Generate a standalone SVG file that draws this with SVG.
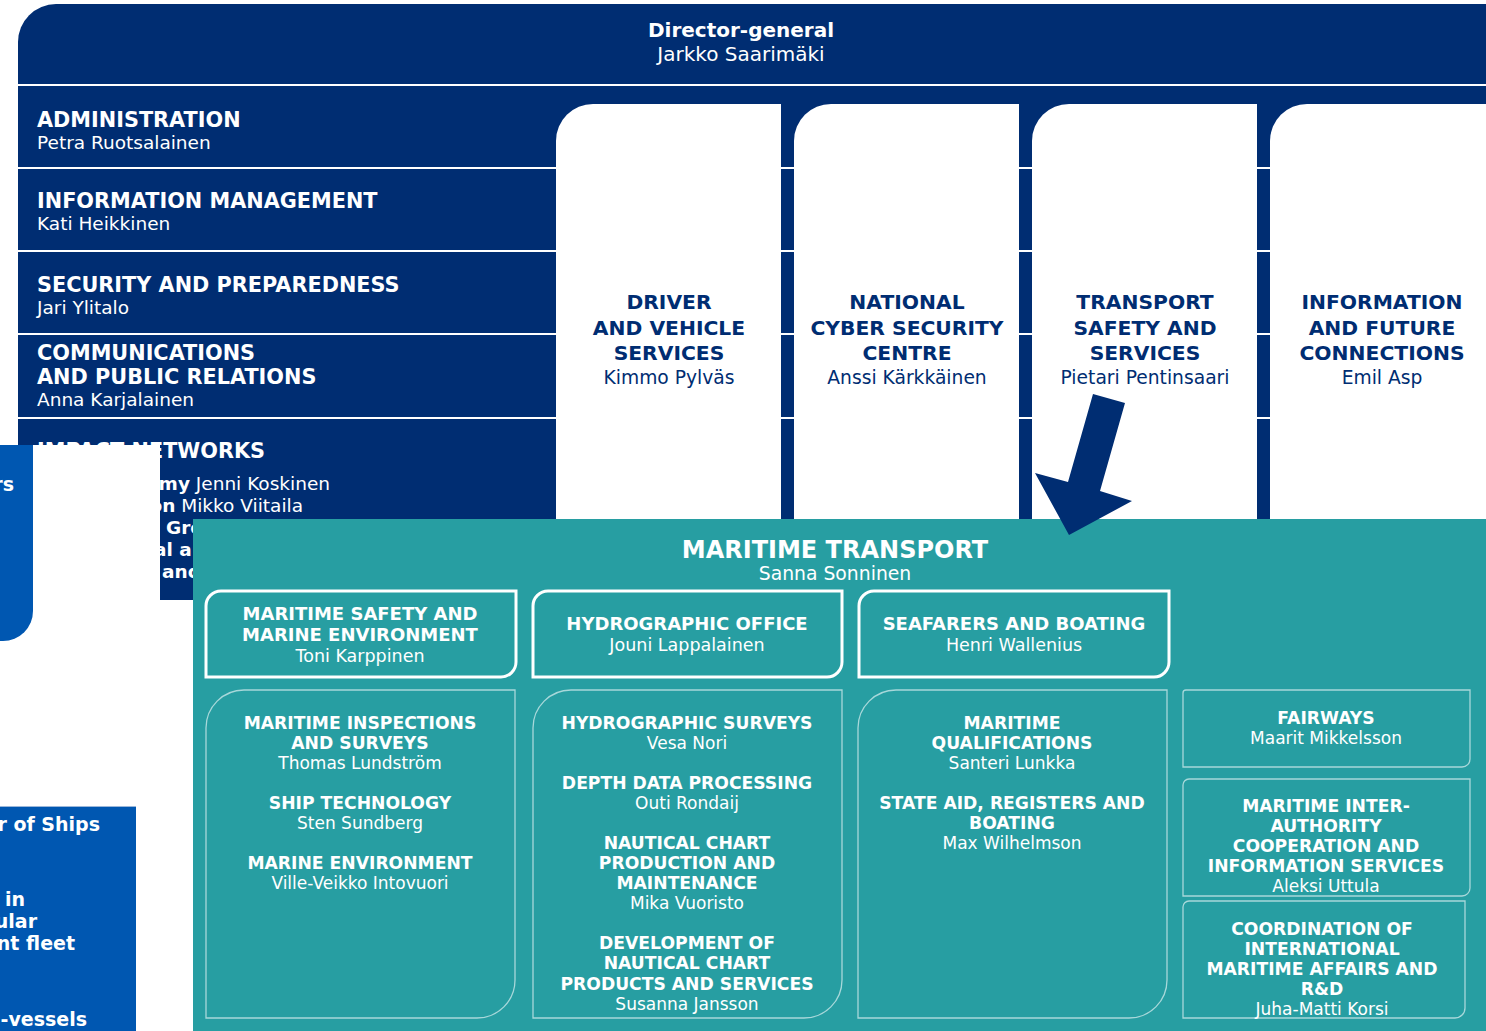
<svg xmlns="http://www.w3.org/2000/svg" width="1486" height="1031" viewBox="0 0 1486 1031">
<style>
text{font-family:"DejaVu Sans","Liberation Sans",sans-serif}
.navy{fill:#002D72}
.wt{fill:#ffffff}
.hb{font-weight:bold;font-size:20.8px;fill:#ffffff}
.hn{font-size:18.5px;fill:#ffffff}
.cb{font-weight:bold;font-size:20.3px;fill:#002D72;text-anchor:middle}
.cn{font-size:18.7px;fill:#002D72;text-anchor:middle}
.tb{font-weight:bold;font-size:18px;fill:#ffffff;text-anchor:middle}
.tn{font-size:17.5px;fill:#ffffff;text-anchor:middle}
.lb{font-weight:bold;font-size:17.2px;fill:#ffffff;text-anchor:middle}
.ln{font-size:17px;fill:#ffffff;text-anchor:middle}
.thick{fill:none;stroke:#ffffff;stroke-width:3}
.thin{fill:none;stroke:#A8D8DA;stroke-width:1.3}
.bb{font-weight:bold;font-size:19px;fill:#ffffff;text-anchor:end}
</style>
<rect width="1486" height="1031" fill="#ffffff"/>

<g id="director">
<path class="navy" d="M18,42 A38,38 0 0 1 56,4 L1486,4 L1486,84 L18,84 Z"/>
<text x="741" y="37" text-anchor="middle" style="font-weight:bold;font-size:20px;fill:#fff">Director-general</text>
<text x="741" y="61" text-anchor="middle" style="font-size:20px;fill:#fff">Jarkko Saarimäki</text>
</g>

<g id="rows">
<rect class="navy" x="18" y="86" width="1468" height="81"/>
<rect class="navy" x="18" y="169" width="1468" height="81"/>
<rect class="navy" x="18" y="252" width="1468" height="81"/>
<rect class="navy" x="18" y="335" width="1468" height="82"/>
<rect class="navy" x="18" y="419" width="1468" height="181"/>
</g>
<g id="administration">
<text class="hb" x="37" y="127">ADMINISTRATION</text>
<text class="hn" x="37" y="149">Petra Ruotsalainen</text>
</g>
<g id="information-management">
<text class="hb" x="37" y="208">INFORMATION MANAGEMENT</text>
<text class="hn" x="37" y="230">Kati Heikkinen</text>
</g>
<g id="security">
<text class="hb" x="37" y="292">SECURITY AND PREPAREDNESS</text>
<text class="hn" x="37" y="314">Jari Ylitalo</text>
</g>
<g id="communications">
<text class="hb" x="37" y="360">COMMUNICATIONS</text>
<text class="hb" x="37" y="384">AND PUBLIC RELATIONS</text>
<text class="hn" x="37" y="406">Anna Karjalainen</text>
</g>
<g id="impact-networks">
<text class="hb" x="37" y="458">IMPACT NETWORKS</text>
<text class="hn" x="330" y="490" text-anchor="end"><tspan font-weight="bold">my</tspan> Jenni Koskinen</text>
<text class="hn" x="303" y="512" text-anchor="end"><tspan font-weight="bold">on</tspan> Mikko Viitaila</text>
<text class="hn" x="166" y="534" font-weight="bold">Gro</text>
<text class="hn" x="154" y="556" font-weight="bold">al a</text>
<text class="hn" x="162" y="578" font-weight="bold">and</text>
</g>

<g id="driver">
<path class="wt" d="M556,141 A37,37 0 0 1 593,104 L781,104 L781,600 L556,600 Z"/>
<text class="cb" x="669" y="309">DRIVER</text>
<text class="cb" x="669" y="335">AND VEHICLE</text>
<text class="cb" x="669" y="360">SERVICES</text>
<text class="cn" x="669" y="384">Kimmo Pylväs</text>
</g>
<g id="cyber">
<path class="wt" d="M794,141 A37,37 0 0 1 831,104 L1019,104 L1019,600 L794,600 Z"/>
<text class="cb" x="907" y="309">NATIONAL</text>
<text class="cb" x="907" y="335">CYBER SECURITY</text>
<text class="cb" x="907" y="360">CENTRE</text>
<text class="cn" x="907" y="384">Anssi Kärkkäinen</text>
</g>
<g id="transport-safety">
<path class="wt" d="M1032,141 A37,37 0 0 1 1069,104 L1257,104 L1257,600 L1032,600 Z"/>
<text class="cb" x="1145" y="309">TRANSPORT</text>
<text class="cb" x="1145" y="335">SAFETY AND</text>
<text class="cb" x="1145" y="360">SERVICES</text>
<text class="cn" x="1145" y="384">Pietari Pentinsaari</text>
</g>
<g id="information-future">
<path class="wt" d="M1270,141 A37,37 0 0 1 1307,104 L1486,104 L1486,600 L1270,600 Z"/>
<text class="cb" x="1382" y="309">INFORMATION</text>
<text class="cb" x="1382" y="335">AND FUTURE</text>
<text class="cb" x="1382" y="360">CONNECTIONS</text>
<text class="cn" x="1382" y="384">Emil Asp</text>
</g>

<g id="left-overlay">
<rect x="0" y="445" width="160" height="586" fill="#ffffff"/>
<path d="M0,445 L33,445 L33,611 A30,30 0 0 1 3,641 L0,641 Z" fill="#0057B1"/>
<text class="bb" x="14" y="491">rs</text>
<rect x="0" y="806" width="136" height="225" fill="#0057B1"/>
<line x1="0" y1="806.5" x2="136" y2="806.5" stroke="#9BB7DA" stroke-width="1"/>
<text class="bb" x="100" y="831">r of Ships</text>
<text class="bb" x="25" y="906">in</text>
<text class="bb" x="37" y="928">ular</text>
<text class="bb" x="75" y="950">nt fleet</text>
<text class="bb" x="87" y="1026">-vessels</text>
</g>

<g id="maritime-transport">
<rect x="193" y="519" width="1293" height="512" fill="#279EA2"/>
<text x="835" y="558" text-anchor="middle" style="font-weight:bold;font-size:24px;fill:#fff">MARITIME TRANSPORT</text>
<text x="835" y="580" text-anchor="middle" style="font-size:18.8px;fill:#fff">Sanna Sonninen</text>
</g>

<g id="maritime-safety">
<path class="thick" d="M206,606 A15,15 0 0 1 221,591 L516,591 L516,662 A15,15 0 0 1 501,677 L206,677 Z"/>
<text class="tb" x="360" y="620">MARITIME SAFETY AND</text>
<text class="tb" x="360" y="641">MARINE ENVIRONMENT</text>
<text class="tn" x="360" y="662">Toni Karppinen</text>
</g>
<g id="hydrographic-office">
<path class="thick" d="M533,606 A15,15 0 0 1 548,591 L842,591 L842,662 A15,15 0 0 1 827,677 L533,677 Z"/>
<text class="tb" x="687" y="630">HYDROGRAPHIC OFFICE</text>
<text class="tn" x="687" y="651">Jouni Lappalainen</text>
</g>
<g id="seafarers">
<path class="thick" d="M859,606 A15,15 0 0 1 874,591 L1169,591 L1169,662 A15,15 0 0 1 1154,677 L859,677 Z"/>
<text class="tb" x="1014" y="630">SEAFARERS AND BOATING</text>
<text class="tn" x="1014" y="651">Henri Wallenius</text>
</g>

<g id="inspections">
<path class="thin" d="M206,728 A38,38 0 0 1 244,690 L515,690 L515,980 A38,38 0 0 1 477,1018 L206,1018 Z"/>
<text class="lb" x="360" y="729">MARITIME INSPECTIONS</text>
<text class="lb" x="360" y="749">AND SURVEYS</text>
<text class="ln" x="360" y="769">Thomas Lundström</text>
<text class="lb" x="360" y="809">SHIP TECHNOLOGY</text>
<text class="ln" x="360" y="829">Sten Sundberg</text>
<text class="lb" x="360" y="869">MARINE ENVIRONMENT</text>
<text class="ln" x="360" y="889">Ville-Veikko Intovuori</text>
</g>
<g id="hydro-units">
<path class="thin" d="M533,728 A38,38 0 0 1 571,690 L842,690 L842,980 A38,38 0 0 1 804,1018 L533,1018 Z"/>
<text class="lb" x="687" y="729">HYDROGRAPHIC SURVEYS</text>
<text class="ln" x="687" y="749">Vesa Nori</text>
<text class="lb" x="687" y="789">DEPTH DATA PROCESSING</text>
<text class="ln" x="687" y="809">Outi Rondaij</text>
<text class="lb" x="687" y="849">NAUTICAL CHART</text>
<text class="lb" x="687" y="869">PRODUCTION AND</text>
<text class="lb" x="687" y="889">MAINTENANCE</text>
<text class="ln" x="687" y="909">Mika Vuoristo</text>
<text class="lb" x="687" y="949">DEVELOPMENT OF</text>
<text class="lb" x="687" y="969">NAUTICAL CHART</text>
<text class="lb" x="687" y="990">PRODUCTS AND SERVICES</text>
<text class="ln" x="687" y="1010">Susanna Jansson</text>
</g>
<g id="seafarer-units">
<path class="thin" d="M858,728 A38,38 0 0 1 896,690 L1167,690 L1167,980 A38,38 0 0 1 1129,1018 L858,1018 Z"/>
<text class="lb" x="1012" y="729">MARITIME</text>
<text class="lb" x="1012" y="749">QUALIFICATIONS</text>
<text class="ln" x="1012" y="769">Santeri Lunkka</text>
<text class="lb" x="1012" y="809">STATE AID, REGISTERS AND</text>
<text class="lb" x="1012" y="829">BOATING</text>
<text class="ln" x="1012" y="849">Max Wilhelmson</text>
</g>
<g id="fairways">
<path class="thin" d="M1183,693 A3,3 0 0 1 1186,690 L1470,690 L1470,759 A8,8 0 0 1 1462,767 L1183,767 Z"/>
<text class="lb" x="1326" y="724">FAIRWAYS</text>
<text class="ln" x="1326" y="744">Maarit Mikkelsson</text>
</g>
<g id="inter-authority">
<path class="thin" d="M1183,785 A6,6 0 0 1 1189,779 L1470,779 L1470,888 A8,8 0 0 1 1462,896 L1183,896 Z"/>
<text class="lb" x="1326" y="812">MARITIME INTER-</text>
<text class="lb" x="1326" y="832">AUTHORITY</text>
<text class="lb" x="1326" y="852">COOPERATION AND</text>
<text class="lb" x="1326" y="872">INFORMATION SERVICES</text>
<text class="ln" x="1326" y="892">Aleksi Uttula</text>
</g>
<g id="international">
<path class="thin" d="M1183,907 A6,6 0 0 1 1189,901 L1465,901 L1465,1008 A10,10 0 0 1 1455,1018 L1183,1018 Z"/>
<text class="lb" x="1322" y="935">COORDINATION OF</text>
<text class="lb" x="1322" y="955">INTERNATIONAL</text>
<text class="lb" x="1322" y="975">MARITIME AFFAIRS AND</text>
<text class="lb" x="1322" y="995">R&amp;D</text>
<text class="ln" x="1322" y="1015">Juha-Matti Korsi</text>
</g>

<g id="connectors">
<polygon class="navy" points="1093,394 1125,403 1100,491 1132,501 1069,535 1035,473 1068,482"/>
</g>
</svg>
